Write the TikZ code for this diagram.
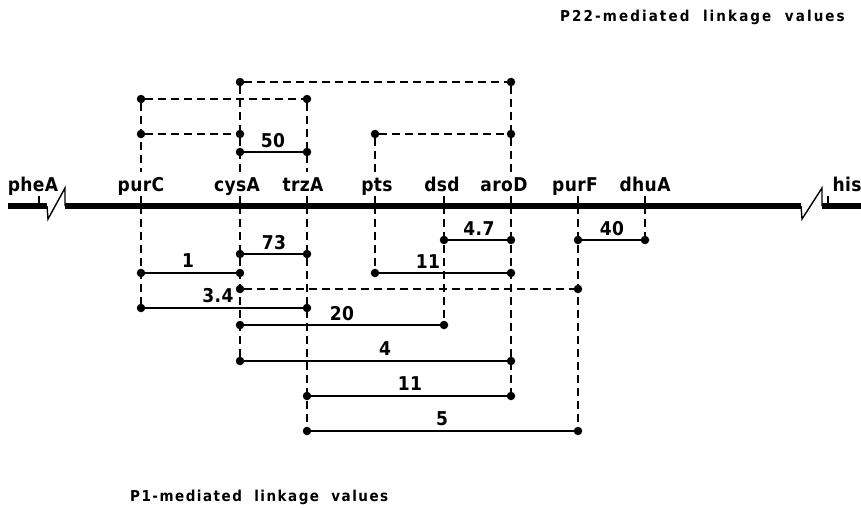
\documentclass[tikz,border=0pt]{standalone}
\usepackage{fontspec}
\setmainfont{DejaVu Sans}
\newfontfamily\genefont[LetterSpace=2]{DejaVu Sans Condensed}
\newfontfamily\capfont[LetterSpace=14,WordSpace=2.0]{DejaVu Sans Condensed}
\newfontfamily\capfontb[LetterSpace=10,WordSpace=2.0]{DejaVu Sans Condensed}
\begin{document}
\begin{tikzpicture}[x=1pt,y=-1pt,
  dot/.style={circle,fill=black,inner sep=0pt,minimum size=8.5pt},
  link/.style={line width=1.8pt},
  plink/.style={line width=1.4pt,dash pattern=on 8pt off 5pt},
  drop/.style={line width=1.4pt,dash pattern=on 8pt off 5pt},
  chrom/.style={line width=5.5pt},
  brk/.style={line width=1.4pt,line join=miter},
  ticksty/.style={line width=1.4pt},
  gene/.style={anchor=base,inner sep=0pt,font=\genefont\bfseries\fontsize{19}{21}\selectfont},
  val/.style={anchor=base,inner sep=0pt,font=\genefont\bfseries\fontsize{19}{21}\selectfont},
  captxt/.style={anchor=base west,inner sep=0pt,font=\capfont\bfseries\fontsize{15}{17}\selectfont},
  captxtb/.style={anchor=base west,inner sep=0pt,font=\capfontb\bfseries\fontsize{15}{17}\selectfont}]
\useasboundingbox (0,0) rectangle (861,509);

% captions
\node[captxt] (capP22) at (560,21) {P22-mediated linkage values};
\node[captxtb] (capP1) at (130,501) {P1-mediated linkage values};

% chromosome
\coordinate (c0) at (8,206);
\coordinate (lb1) at (47,206);
\coordinate (lb2) at (48,219);
\coordinate (lb3) at (65,188);
\coordinate (lb4) at (65,206);
\coordinate (rb1) at (801,206);
\coordinate (rb2) at (802,219);
\coordinate (rb3) at (822,188);
\coordinate (rb4) at (822,206);
\coordinate (c1) at (861,206);
\draw[chrom] (c0) -- (lb1);
\draw[chrom] (lb4) -- (rb1);
\draw[chrom] (rb4) -- (c1);
\draw[brk] (lb1) -- (lb2) -- (lb3) -- (lb4);
\draw[brk] (rb1) -- (rb2) -- (rb3) -- (rb4);

% gene positions on the chromosome
\coordinate (gpheA) at (39,206);
\coordinate (gpurC) at (141,206);
\coordinate (gcysA) at (240,206);
\coordinate (gtrzA) at (307,206);
\coordinate (gpts) at (375,206);
\coordinate (gdsd) at (444,206);
\coordinate (garoD) at (511,206);
\coordinate (gpurF) at (578,206);
\coordinate (gdhuA) at (645,206);
\coordinate (ghis) at (828,206);

% ends of the upper drop lines, just above the labels
\coordinate (upurC) at (141,172);
\coordinate (ucysA) at (240,172);
\coordinate (utrzA) at (307,172);
\coordinate (upts) at (375,172);
\coordinate (uaroD) at (511,172);

% gene labels
\node[gene] (lpheA) at (33,191) {pheA};
\node[gene] (lpurC) at (141,191) {purC};
\node[gene] (lcysA) at (237,191) {cysA};
\node[gene] (ltrzA) at (303,191) {trzA};
\node[gene] (lpts) at (377,191) {pts};
\node[gene] (ldsd) at (442,191) {dsd};
\node[gene] (laroD) at (504,191) {aroD};
\node[gene] (lpurF) at (575,191) {purF};
\node[gene] (ldhuA) at (645,191) {dhuA};
\node[gene] (lhis) at (847,191) {his};

% ticks above line
\foreach \g in {gpheA,gpurC,gcysA,gtrzA,gpts,gdsd,garoD,gpurF,gdhuA,ghis}
  \draw[ticksty] (\g) -- ++(0,-10);

% ---------- P22 (above) ----------
\node[dot] (t1a) at (240,82) {};
\node[dot] (t1b) at (511,82) {};
\node[dot] (t2a) at (141,99) {};
\node[dot] (t2b) at (307,99) {};
\node[dot] (t3a) at (141,134) {};
\node[dot] (t3b) at (240,134) {};
\node[dot] (t4a) at (375,134) {};
\node[dot] (t4b) at (511,134) {};
\node[dot] (t5a) at (240,152) {};
\node[dot] (t5b) at (307,152) {};

\draw[plink] (t1a) -- (t1b);
\draw[plink] (t2a) -- (t2b);
\draw[plink] (t3a) -- (t3b);
\draw[plink] (t4a) -- (t4b);
\draw[link] (t5a) -- (t5b);
\node[val] (v50) at (273,147) {50};

\draw[drop] (t2a) -- (upurC);
\draw[drop] (t1a) -- (ucysA);
\draw[drop] (t2b) -- (utrzA);
\draw[drop] (t4a) -- (upts);
\draw[drop] (t1b) -- (uaroD);

% ---------- P1 (below) ----------
\node[dot] (b1a) at (444,240) {};
\node[dot] (b1b) at (511,240) {};
\node[dot] (b2a) at (578,240) {};
\node[dot] (b2b) at (645,240) {};
\node[dot] (b3a) at (240,254) {};
\node[dot] (b3b) at (307,254) {};
\node[dot] (b4a) at (141,273) {};
\node[dot] (b4b) at (240,273) {};
\node[dot] (b5a) at (375,273) {};
\node[dot] (b5b) at (511,273) {};
\node[dot] (b6a) at (240,289) {};
\node[dot] (b6b) at (578,289) {};
\node[dot] (b7a) at (141,308) {};
\node[dot] (b7b) at (307,308) {};
\node[dot] (b8a) at (240,325) {};
\node[dot] (b8b) at (444,325) {};
\node[dot] (b9a) at (240,361) {};
\node[dot] (b9b) at (511,361) {};
\node[dot] (b10a) at (307,396) {};
\node[dot] (b10b) at (511,396) {};
\node[dot] (b11a) at (307,431) {};
\node[dot] (b11b) at (578,431) {};

\draw[link] (b1a) -- (b1b);
\node[val] (v47) at (479,235) {4.7};
\draw[link] (b2a) -- (b2b);
\node[val] (v40) at (612,235) {40};
\draw[link] (b3a) -- (b3b);
\node[val] (v73) at (274,249) {73};
\draw[link] (b4a) -- (b4b);
\node[val] (v1) at (188,267) {1};
\draw[link] (b5a) -- (b5b);
\node[val] (v11a) at (428,268) {11};
\draw[plink] (b6a) -- (b6b);
\draw[link] (b7a) -- (b7b);
\node[val] (v34) at (218,302) {3.4};
\draw[link] (b8a) -- (b8b);
\node[val] (v20) at (342,320) {20};
\draw[link] (b9a) -- (b9b);
\node[val] (v4) at (385,355) {4};
\draw[link] (b10a) -- (b10b);
\node[val] (v11b) at (410,390) {11};
\draw[link] (b11a) -- (b11b);
\node[val] (v5) at (442,425) {5};

\draw[drop] (gpurC) -- (b7a);
\draw[drop] (gcysA) -- (b9a);
\draw[drop] (gtrzA) -- (b11a);
\draw[drop] (gpts) -- (b5a);
\draw[drop] (gdsd) -- (b8b);
\draw[drop] (garoD) -- (b10b);
\draw[drop] (gpurF) -- (b11b);
\draw[drop] (gdhuA) -- (b2b);
\end{tikzpicture}
\end{document}
